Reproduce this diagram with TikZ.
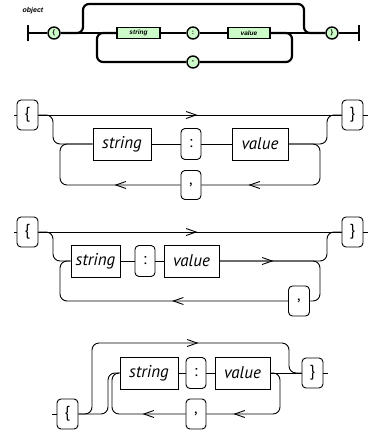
\documentclass[tikz,border=0pt]{standalone}
\usepackage{fontspec}
\newfontfamily\diafont{PT Sans}
\newfontfamily\jsonfont{Liberation Sans}
\usetikzlibrary{arrows.meta,decorations.markings}
\definecolor{jsongreen}{RGB}{204,250,200}
\tikzset{
  term/.style={draw,rounded corners=4pt,minimum width=21pt,minimum height=30pt,inner sep=0pt,
    font=\diafont\fontsize{16}{16}\selectfont},
  nonterm/.style={draw,sharp corners,minimum height=32pt,inner sep=0pt,
    font=\diafont\itshape\fontsize{17}{17}\selectfont},
  arr/.style={postaction={decorate,decoration={markings,
    mark=at position #1 with {\arrow{Straight Barb[length=10pt,width=7pt]}}}}},
  jterm/.style={circle,draw,fill=jsongreen,line width=1.4pt,minimum size=12pt,inner sep=0pt,
    font=\jsonfont\bfseries\fontsize{6.5}{6.5}\selectfont},
  jnonterm/.style={draw,sharp corners,fill=jsongreen,line width=1.4pt,minimum height=11pt,inner sep=0pt,
    font=\jsonfont\bfseries\itshape\fontsize{6.5}{6.5}\selectfont},
}
\begin{document}
\begin{tikzpicture}[x=1pt,y=-1pt]
	\useasboundingbox (0,0) rectangle (370,432);
	% json.org picture
	\node[font=\jsonfont\bfseries\itshape\fontsize{7}{7}\selectfont] (olabel) at (33,11) {object};
	\coordinate (ostart) at (28,33);
	\coordinate (oend) at (359,33);
	\node[jterm] (olb) at (54,33) {\{};
	\node[jnonterm,minimum width=43pt] (ostr) at (138.5,33) {string};
	\node[jterm] (ocol) at (193,33) {:};
	\node[jnonterm,minimum width=42pt] (oval) at (249,33) {value};
	\node[jterm] (ocom) at (193,62) {,};
	\node[jterm] (orb) at (332,33) {\}};
	\begin{scope}[line width=2.2pt,rounded corners=6pt]
		\draw ([yshift=-8pt]ostart) -- ([yshift=8pt]ostart);
		\draw ([yshift=-8pt]oend) -- ([yshift=8pt]oend);
		\draw (ostart) -- (olb) -- (ostr) -- (ocol) -- (oval) -- (orb) -- (oend);
		\draw (olb.east) -| (83,4) -| (304,33) -- (orb.west);
		\draw (oval.east) -| (292,62) -- (ocom.east);
		\draw (ocom.west) -| (97,33) -- (ostr.west);
	\end{scope}

	\begin{scope}[line width=0.9pt,rounded corners=7pt]
		% first variant
		\node[term] (lb2) at (27.5,115) {\{};
		\node[term] (rb2) at (352.5,115) {\}};
		\node[nonterm,minimum width=58pt] (str2) at (122,144) {string};
		\node[term,minimum width=20pt,minimum height=31pt] (col2) at (191,144) {:};
		\node[nonterm,minimum width=56pt] (val2) at (260,144) {value};
		\node[term,minimum width=20pt,minimum height=29pt] (com2) at (191,185) {,};
		\coordinate (in2) at (14,115);
		\coordinate (out2) at (368,115);
		\draw (in2) -- (lb2.west);
		\draw (rb2.east) -- (out2);
		\draw[arr=159pt] (lb2.east) -- (rb2.west);
		\draw (lb2.east) -| (53,144) -- (str2.west);
		\draw (str2) -- (col2) -- (val2);
		\draw (val2.east) -| (327,115) -- (rb2.west);
		\draw[arr=-47pt] (val2.east) -| (320,185) -- (com2.east);
		\draw[arr=66pt] (com2.west) -| (60,144) -- (str2.west);

		% second variant
		\node[term] (lb3) at (27.5,232) {\{};
		\node[term] (rb3) at (352.5,232) {\}};
		\node[nonterm,minimum width=49pt] (str3) at (95.5,261) {string};
		\node[term,minimum width=20pt,minimum height=31pt] (col3) at (145,261) {:};
		\node[nonterm,minimum width=55pt] (val3) at (191.5,261) {value};
		\node[term] (com3) at (299,301) {,};
		\coordinate (in3) at (14,232);
		\coordinate (out3) at (368,232);
		\draw (in3) -- (lb3.west);
		\draw (rb3.east) -- (out3);
		\draw[arr=159pt] (lb3.east) -- (rb3.west);
		\draw (lb3.east) -| (53,261) -- (str3.west);
		\draw (str3) -- (col3) -- (val3);
		\draw[arr=54pt] (val3.east) -| (327,232) -- (rb3.west);
		\draw (val3.east) -| (320,301) -- (com3.east);
		\draw[arr=116pt] (com3.west) -| (60,261) -- (str3.west);

		% third variant
		\node[term] (lb4) at (67.5,414) {\{};
		\node[nonterm,minimum width=58pt] (str4) at (149,373) {string};
		\node[term,minimum width=20pt,minimum height=31pt] (col4) at (196,373) {:};
		\node[nonterm,minimum width=55pt] (val4) at (242.5,373) {value};
		\node[term] (rb4) at (312.5,373) {\}};
		\node[term,minimum width=20pt] (com4) at (196,414) {,};
		\coordinate (in4) at (52,414);
		\coordinate (out4) at (328,373);
		\draw (in4) -- (lb4.west);
		\draw (rb4.east) -- (out4);
		\draw[arr=185pt] (lb4.east) -| (92,343) -| (289,373) -- (rb4.west);
		\draw (lb4.east) -| (108,373) -- (str4.west);
		\draw (str4) -- (col4) -- (val4) -- (rb4);
		\draw[arr=-27pt] (val4.east) -| (280,414) -- (com4.east);
		\draw[arr=43pt] (com4.west) -| (112,373) -- (str4.west);
	\end{scope}
\end{tikzpicture}
\end{document}
